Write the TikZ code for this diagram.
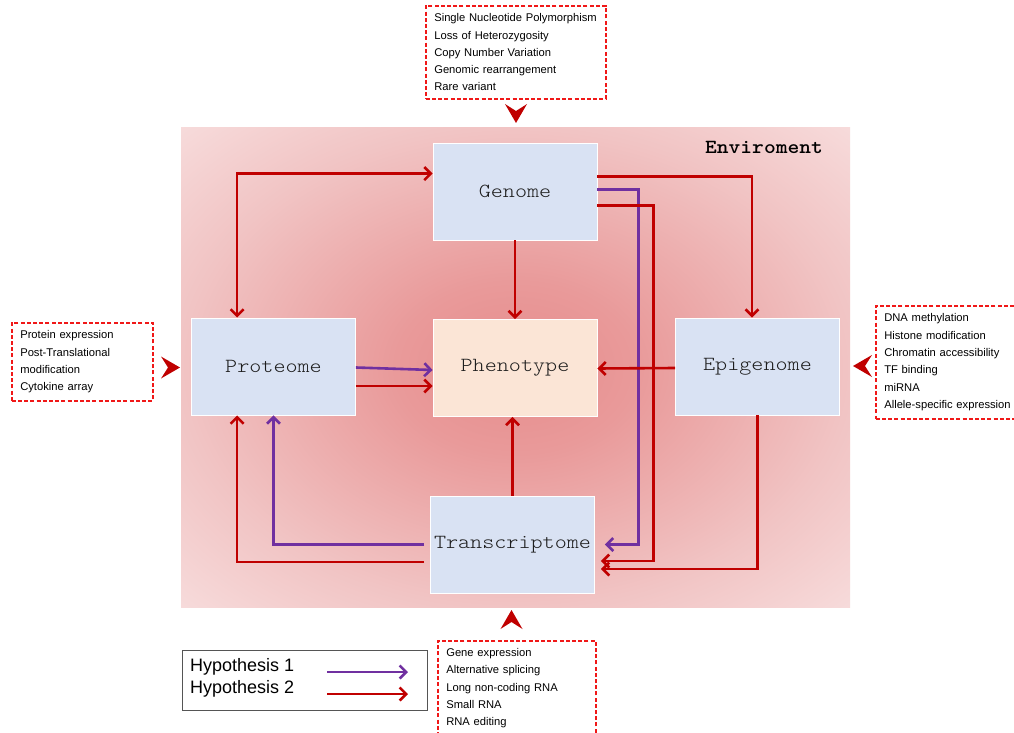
\documentclass[tikz,border=0pt]{standalone}
\usepackage{fontspec}
\setmainfont{Liberation Sans}
\newfontfamily\boxmono{lmmonolt10-regular.otf}[FakeStretch=1.15]
\newfontfamily\envmono{lmmonolt10-bold.otf}[FakeStretch=1.12]
\usetikzlibrary{arrows.meta}

\definecolor{hred}{HTML}{C00000}
\definecolor{hpurple}{HTML}{7030A0}
\definecolor{boxblue}{HTML}{D9E2F3}
\definecolor{boxpeach}{HTML}{FBE5D6}
\definecolor{envin}{HTML}{E68C8C}
\definecolor{envinner}{HTML}{E99A9A}
\definecolor{envmid}{HTML}{F1C4C4}
\definecolor{envout}{HTML}{F7DCDC}
\definecolor{notered}{HTML}{F01818}
\definecolor{legframe}{HTML}{555555}
\definecolor{labelgray}{HTML}{1E1E1E}

% soft glow of the environment panel (25bp = panel edge, 35.4bp = panel corner)
\pgfdeclareradialshading{envglow}{\pgfpoint{0bp}{0bp}}{color(0bp)=(envin); color(9bp)=(envinner); color(25bp)=(envmid); color(36bp)=(envout); color(50bp)=(envout)}

\tikzset{
  >={Straight Barb[length=6.5pt,width=13pt]},
  omic/.style={rectangle, fill=boxblue, draw=white, line width=0.8pt,
    minimum width=164pt, minimum height=97pt, inner sep=0pt, text=labelgray,
    font=\fontsize{20}{24}\selectfont\boxmono},
  hypone/.style={draw=hpurple, line width=2.6pt},
  hyptwo/.style={draw=hred, line width=2.6pt},
  note/.style={draw=notered, line width=1.6pt, dash pattern=on 4pt off 2.2pt,
    anchor=north west, inner xsep=8.5pt, inner ysep=0pt, align=left,
    font=\fontsize{11.2}{17.3}\selectfont},
  chev/.pic={\fill[hred] (0,0) -- (11,19) -- (0,12) -- (-11,19) -- cycle;},
}

\begin{document}
\begin{tikzpicture}[x=1pt,y=-1pt]
\clip (0,0) rectangle (1014,733);
\fill[white] (0,0) rectangle (1014,733);

% environment panel
\node[shading=envglow, minimum width=669pt, minimum height=479pt, inner sep=0pt] (env) at (515.5,367.5) {};
\node[font=\fontsize{20}{24}\selectfont\envmono] (envlabel) at (764,147) {Enviroment};

% omics layers
\node[omic] (gen) at (515,191.5) {Genome};
\node[omic] (pro) at (273.5,366.5) {Proteome};
\node[omic, fill=boxpeach] (phe) at (515,368) {Phenotype};
\node[omic] (epi) at (757.5,366.5) {Epigenome};
\node[omic] (tra) at (512.5,544.5) {Transcriptome};

% connectors
\draw[hyptwo, <->] ([xshift=46pt]pro.north west) |- ([yshift=-31pt]gen.north west);
\draw[hyptwo, ->] (gen.south) -- (phe.north);
\draw[hyptwo, ->] ([yshift=-34pt]gen.north east) -| ([xshift=-5.5pt]epi.north);
\draw[hypone, ->, shorten >=10pt] ([yshift=-47pt]gen.north east) -- ++(41,0) |- (tra.east);
\draw[hyptwo, ->, shorten >=6pt] ([yshift=-63pt]gen.north east) -- ++(56,0) |- ([yshift=-16.5pt]tra.east);
\draw[hyptwo, ->, shorten >=6pt] (epi.south) |- ([yshift=-24.5pt]tra.east);
\draw[hyptwo, ->] ([yshift=-1.5pt]epi.west) -- ([yshift=-0.5pt]phe.east);
\draw[hypone, ->] ([yshift=-1pt]pro.east) -- ([yshift=-2pt]phe.west);
\coordinate (pmid) at ([yshift=-19.5pt]pro.east);
\draw[hyptwo, ->] (pmid) -- (pmid -| phe.west);
\draw[hyptwo, ->] (tra.north) -- (tra.north |- phe.south);
\draw[hypone, ->] ([xshift=-6pt]tra.west) -| (pro.south);
\draw[hyptwo, ->] ([xshift=-6pt,yshift=-17.5pt]tra.west) -| ([xshift=46pt]pro.south west);

% data layers
\node[note, text width=163pt, minimum height=93pt] (gnote) at (425,5)
  {Single Nucleotide Polymorphism\\Loss of Heterozygosity\\Copy Number Variation\\Genomic rearrangement\\Rare variant};
\node[note, text width=124pt, minimum height=78pt] (pnote) at (11,322)
  {Protein expression\\Post-Translational\\modification\\Cytokine array};
\node[note, text width=132pt, minimum height=113pt] (enote) at (875,305)
  {DNA methylation\\Histone modification\\Chromatin accessibility\\TF binding\\miRNA\\Allele-specific expression};
\node[note, text width=141pt, minimum height=95pt] (tnote) at (437,640)
  {Gene expression\\Alternative splicing\\Long non-coding RNA\\Small RNA\\RNA editing};

% inputs into the environment
\pic[rotate=180] at (516,123) {chev};
\pic[rotate=-90] at (180,367.5) {chev};
\pic[rotate=90] at (853,366) {chev};
\pic at (511.5,610) {chev};

% legend
\node[draw=legframe, line width=1pt, minimum width=245pt, minimum height=60pt, inner sep=0pt] (leg) at (304.5,680) {};
\node[anchor=west, inner sep=0pt, font=\fontsize{18}{20}\selectfont] (h1) at (190,667) {Hypothesis 1};
\node[anchor=west, inner sep=0pt, font=\fontsize{18}{20}\selectfont] (h2) at (190,689) {Hypothesis 2};
\coordinate (a1s) at (327,672);
\coordinate (a1e) at (408,672);
\coordinate (a2s) at (327,694);
\coordinate (a2e) at (408,694);
\draw[hypone, ->] (a1s) -- (a1e);
\draw[hyptwo, ->] (a2s) -- (a2e);
\end{tikzpicture}
\end{document}
